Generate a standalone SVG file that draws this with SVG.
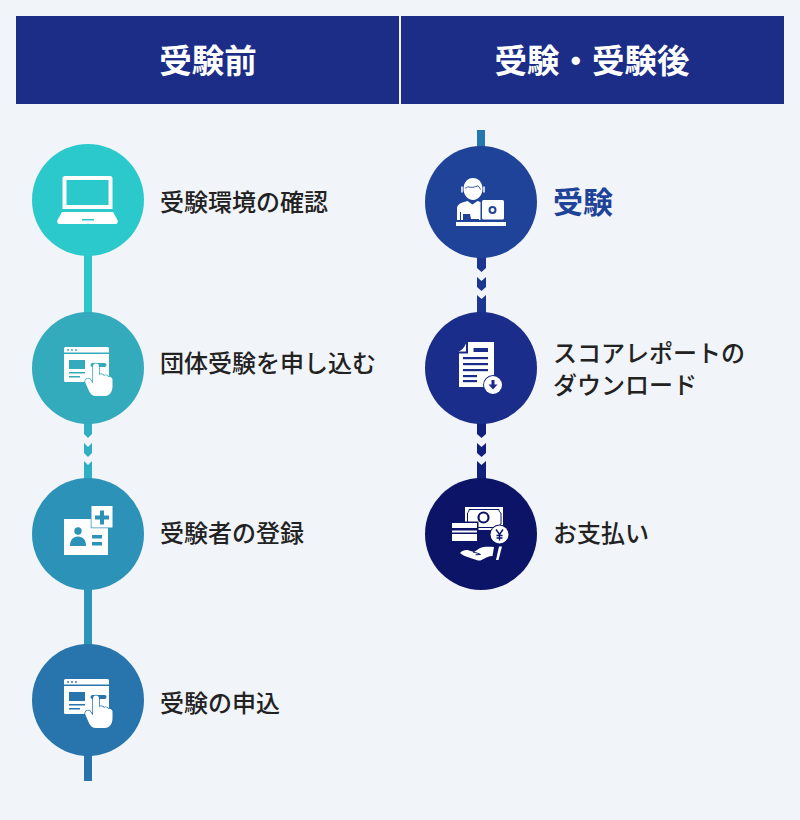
<svg xmlns="http://www.w3.org/2000/svg" width="800" height="820" viewBox="0 0 800 820">
<style>
text{font-family:"Noto Sans CJK JP","Noto Sans CJK SC",sans-serif;fill:#222;font-size:24px;font-weight:500}
.hd{fill:#fff;font-size:32.500px;font-weight:700;text-anchor:middle}
.w{fill:#fff}
.k{fill:currentColor}
</style>
<defs>
<g id="win">
<path class="w" d="M64 348.500a1.500 1.500 0 0 1 1.500-1.500h42a1.500 1.500 0 0 1 1.500 1.500v4h-45zM64 354h45v26.500a1.500 1.500 0 0 1-1.500 1.500h-42a1.500 1.500 0 0 1-1.500-1.500z"/>
<g class="k"><circle cx="68" cy="350" r=".9"/><circle cx="72" cy="350" r=".9"/><circle cx="76" cy="350" r=".9"/>
<rect x="69" y="360" width="16" height="9"/><rect x="69" y="372" width="16" height="1.500"/><rect x="69" y="376" width="11" height="1.500"/>
<rect x="90.500" y="363" width="16" height="4" rx="2"/></g>
<path class="w" d="M93 366.500a3 3 0 0 1 6 0v8.500c1.500-1.200 4-.8 4.800 .8c1.500-1 3.800-.5 4.400 1.200c1.800-.7 4 .3 4.300 2.500v7c0 5-3 9.500-7.500 9.500h-9c-3.500 0-5.500-2-7-5l-3.500-8c-.8-2.200 0-3.800 1.500-4.300c1.700-.5 3.300 .3 4 2l2 2.500z" style="stroke:currentColor;stroke-width:1.500;paint-order:stroke"/>
</g>
</defs>
<rect width="800" height="820" fill="#f1f4f8"/>
<g id="header-before"><rect x="16" y="16" width="383" height="88" fill="#1c2d87"/><text class="hd" x="208" y="73">受験前</text></g>
<g id="header-after"><rect x="401" y="16" width="383" height="88" fill="#1c2d87"/><text class="hd" x="592" y="73">受験・受験後</text></g>
<g id="connectors">
<rect x="84" y="250" width="8" height="66" fill="#2bc6cb"/>
<g fill="#2fafc3"><path d="M84 420h8v14l-4 4-4-4z"/><path d="M84 443l4 4 4-4v10l-4 4-4-4z"/><path d="M84 461l4 4 4-4v21h-8z"/></g>
<rect x="84" y="586" width="8" height="62" fill="#2c93b9"/>
<rect x="84" y="750" width="8" height="31" fill="#2874ad"/>
<rect x="477" y="130" width="8" height="20" fill="#2478ad"/>
<g fill="#1b3690"><path d="M477 254h9v14l-4.500 4-4.500-4z"/><path d="M477 277l4.500 4 4.500-4v10l-4.500 4-4.500-4z"/><path d="M477 295l4.500 4 4.500-4v21h-9z"/></g>
<g fill="#121f7c"><path d="M477 420h9v14l-4.500 4-4.500-4z"/><path d="M477 443l4.500 4 4.500-4v10l-4.500 4-4.500-4z"/><path d="M477 461l4.500 4 4.500-4v21h-9z"/></g>
</g>
<g id="node-env" style="color:#2bc9cb"><circle cx="88" cy="200" r="56" fill="#2bc9cb"/>
<path class="w" fill-rule="evenodd" d="M65 176h45a2.500 2.500 0 0 1 2.500 2.500V209h-50V178.500A2.500 2.500 0 0 1 65 176zM66.500 180v25h42v-25z"/>
<path class="w" d="M62 212h51l4.500 8c.8 2 0 4-2 4H59.500c-2 0-2.800-2-2-4z"/><rect class="k" x="82" y="219" width="12" height="1.500"/>
<text x="160" y="211">受験環境の確認</text></g>
<g id="node-group" style="color:#34aabd"><circle cx="88" cy="368" r="56" fill="#34aabd"/><use href="#win"/>
<text x="160" y="372">団体受験を申し込む</text></g>
<g id="node-register" style="color:#2c92b8"><circle cx="88" cy="534" r="56" fill="#2c92b8"/>
<rect class="w" x="64" y="519" width="44" height="36"/>
<rect class="w" x="91.500" y="506" width="21" height="21.500" style="stroke:currentColor;stroke-width:1.500;paint-order:stroke"/>
<path class="k" d="M100 510.500h4v5h5v4h-5v5h-4v-5h-5v-4h5z"/>
<circle class="k" cx="78" cy="531" r="3.700"/><path class="k" d="M70 546c0-6 3-9.500 8-9.500s8 3.500 8 9.500z"/>
<rect class="k" x="92" y="535" width="10" height="3.500"/><rect class="k" x="92" y="542" width="10" height="3.500"/>
<text x="160" y="542">受験者の登録</text></g>
<g id="node-apply" style="color:#2874ad"><circle cx="88" cy="700" r="56" fill="#2874ad"/><use href="#win" transform="translate(0 332)"/>
<text x="160" y="712">受験の申込</text></g>
<g id="node-exam" style="color:#1f4398"><circle cx="481" cy="202" r="56" fill="#1f4398"/>
<rect class="w" x="456" y="222" width="50" height="4"/>
<path class="w" d="M457 220v-11c0-4 3-6 7-7l3.500-1 5 3.500 5-3.500 3 1V220h-1.500v-1h-8l-1-5h-7v6h-2v-8h-1v8z"/>
<path class="w" d="M463.500 189c0-6.500 4-11 9.500-11s9.500 4.500 9.500 11c0 5.500-4 11-9.500 11s-9.500-5.500-9.500-11z"/>
<path d="M465 188c1 .2 2-.3 2.500-1.200 3.500 1 7.500 .5 10.500-1 1 1 2 2.200 2.500 3.700" fill="none" stroke="#1f4398" stroke-width=".9"/>
<path d="M462 186.500v6M484 186.500v6" stroke="#fff" stroke-width="1.500" fill="none"/>
<rect class="w" x="482" y="200" width="22" height="19.500" rx="1.500"/>
<circle cx="492.500" cy="210" r="3" fill="none" stroke="#1f4398" stroke-width="2"/>
<text x="553" y="213" style="fill:#1f4398;font-size:30px;font-weight:700">受験</text></g>
<g id="node-report" style="color:#1b2d8a"><circle cx="481" cy="368" r="56" fill="#1b2d8a"/>
<path class="w" d="M468 342h26v45h-35V353.500h9z"/><path class="w" d="M466 343.500c0 3 0 6 0 8h-7.500c3-1 6-4 7.500-8z"/>
<g class="k"><rect x="473.500" y="348" width="14.500" height="4"/><rect x="463" y="357" width="25" height="2.200"/><rect x="463" y="363" width="25" height="2.200"/><rect x="463" y="369" width="25" height="2.200"/><rect x="463" y="375" width="14" height="2.200"/><rect x="463" y="380" width="14" height="2.200"/></g>
<circle class="w" cx="493" cy="385" r="9" style="stroke:currentColor;stroke-width:2;paint-order:stroke"/>
<path class="k" d="M491.500 380h3v4.500h3l-4.500 5-4.500-5h3z"/>
<text x="553" y="362">スコアレポートの</text><text x="553" y="394">ダウンロード</text></g>
<g id="node-pay" style="color:#0b1466"><circle cx="481" cy="534" r="56" fill="#0b1466"/>
<rect class="w" x="465" y="507" width="38" height="23"/>
<path d="M469 509.500h30c0 2 .8 3 2 3.500v11c-1.200 .5-2 1.500-2 3.500h-30c0-2-.8-3-1.500-3.500v-11c.7-.5 1.500-1.500 1.500-3.500z" fill="none" stroke="#0b1466" stroke-width="1"/>
<circle cx="483.500" cy="517.500" r="5" fill="none" stroke="#0b1466" stroke-width="2.200"/>
<rect x="450.500" y="521.500" width="28" height="21" fill="#0b1466"/>
<path class="w" d="M452 523h25v5h-25zM452 530.500h25v2h-25zM452 534h25v7h-25z"/>
<circle class="w" cx="499.500" cy="534.500" r="9" style="stroke:#0b1466;stroke-width:2;paint-order:stroke"/>
<path d="M496 529.500l3.500 5 3.500-5M499.500 534.500v6M496.500 535.500h6M496.500 538h6" fill="none" stroke="#0b1466" stroke-width="1.400"/>
<path class="w" d="M460 553c3-3 6-3.500 9-2.500l5 1.500 6-4c3-1.500 9-1.500 14-1l-1.500 9c-4 0-7 2-11 4-1.500 .7-3 .7-5 0l-9-3c-3-1-5-2-7.500-4z"/>
<path d="M473 552c3 .7 6 1.500 7.500 2.500M480.500 554.500l-5 .3" fill="none" stroke="#0b1466" stroke-width="1"/>
<path class="w" d="M499 546.500h3l-3.500 13.500h-2.500z"/>
<text x="553" y="542">お支払い</text></g>
</svg>
